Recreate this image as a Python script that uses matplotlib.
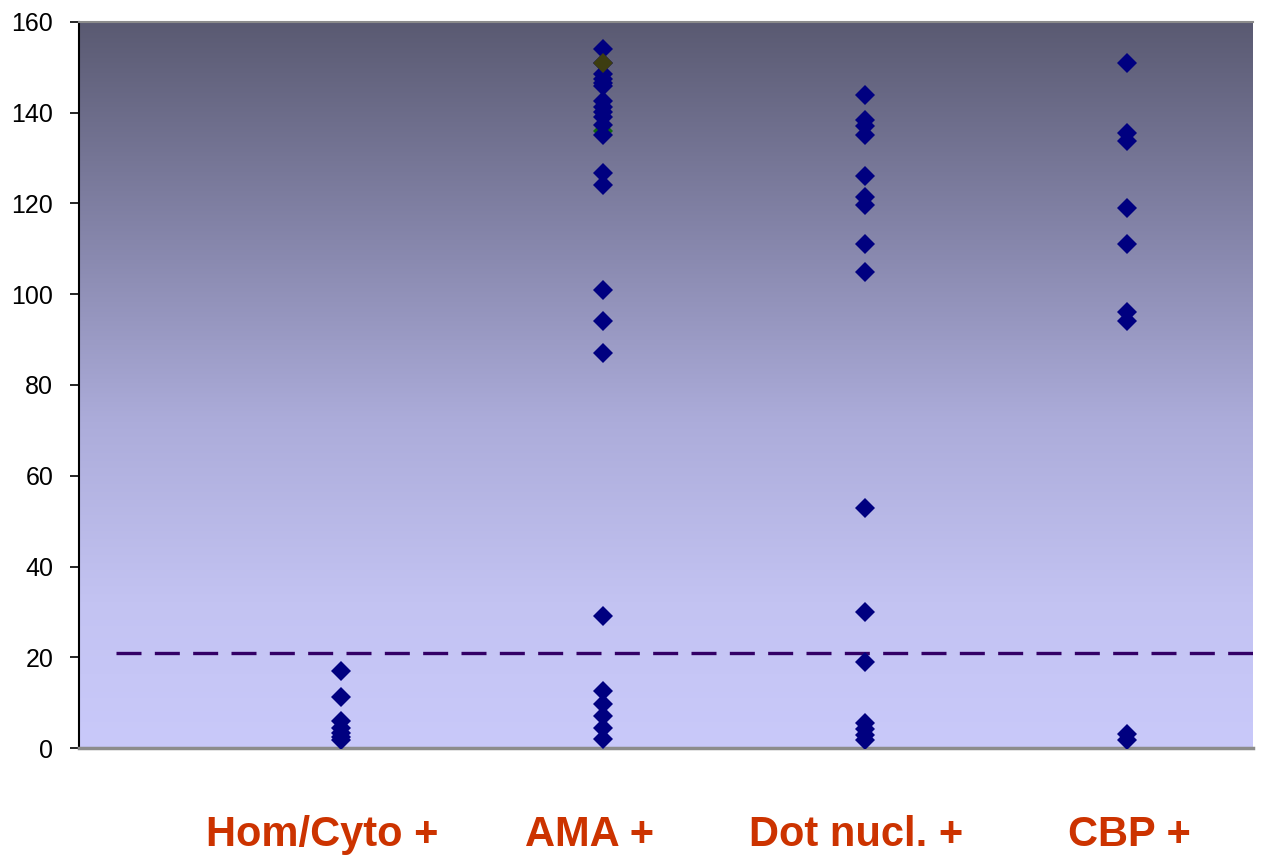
import numpy as np
import matplotlib.pyplot as plt
from matplotlib.colors import LinearSegmentedColormap

plt.rcParams['font.family'] = ['Liberation Sans', 'DejaVu Sans']

categories = ['Hom/Cyto +', 'AMA +', 'Dot nucl. +', 'CBP +']
label_x = [0.927, 1.95, 2.966, 4.008]

hom_cyto = [17, 11.2, 6, 4.5, 3.2, 2.5, 1.8]
ama = [154, 151, 148.5, 147.5, 146.5, 145.8, 142.5, 141.3, 140.2, 139, 137.3, 135,
       126.8, 124, 101, 94, 87, 29, 12.5, 9.8, 7, 4.5, 1.9]
dot_nucl = [144, 138.3, 137, 135.2, 126, 121.5, 119.7, 111, 104.8, 52.8, 30, 19,
            5.5, 4.2, 2.8, 1.8]
cbp = [151, 135.5, 133.7, 119, 111, 96, 94, 3, 1.8]
series = [hom_cyto, ama, dot_nucl, cbp]

cutoff = 20.9

fig = plt.figure(figsize=(12.63, 8.57), dpi=100)
ax = fig.add_axes([79 / 1263, 1 - 748 / 857, 1174 / 1263, 726 / 857])

# background gradient, light at bottom, dark at top
cmap = LinearSegmentedColormap.from_list('bg', [(0.0, '#c9c9fa'), (0.2, '#c3c3f2'),
                                                (0.45, '#acacda'), (0.7, '#8686ab'),
                                                (1.0, '#5a5a72')])
grad = np.linspace(0, 1, 256).reshape(-1, 1)
ax.imshow(grad, aspect='auto', cmap=cmap, origin='lower',
          extent=[0, 4.48, 0, 160], zorder=0)

for i, vals in enumerate(series):
    ax.plot([i + 1] * len(vals), vals, 'D', color='#000080', markersize=10,
            markeredgewidth=0, zorder=3)

# second overlapping marks in AMA column
ax.plot([2], [151], 'D', color='#3d3d10', markersize=10, markeredgewidth=0, zorder=4)
ax.plot([2], [136], 'D', color='#116611', markersize=10, markeredgewidth=0, zorder=2)

ax.plot([0.14, 4.48], [cutoff, cutoff], color='#330066', lw=2.4,
        dashes=(7.5, 4), zorder=2)

ax.set_xlim(0, 4.48)
ax.set_ylim(0, 160)
ax.set_yticks(np.arange(0, 161, 20))
ax.tick_params(axis='y', labelsize=18, length=6.5, width=1.2, direction='out', pad=12)
ax.set_xticks([])

ax.spines['left'].set_color('black')
ax.spines['left'].set_linewidth(1.5)
ax.spines['bottom'].set_color('#8c8c8c')
ax.spines['bottom'].set_linewidth(2.5)
ax.spines['top'].set_color('#8c8c8c')
ax.spines['top'].set_linewidth(1.5)
ax.spines['right'].set_visible(False)

for xpos, lab in zip(label_x, categories):
    ax.text(xpos, -19.2, lab, ha='center', va='center', fontsize=30,
            fontweight='bold', color='#cc3300', clip_on=False)

fig.savefig('out.png', dpi=100)
